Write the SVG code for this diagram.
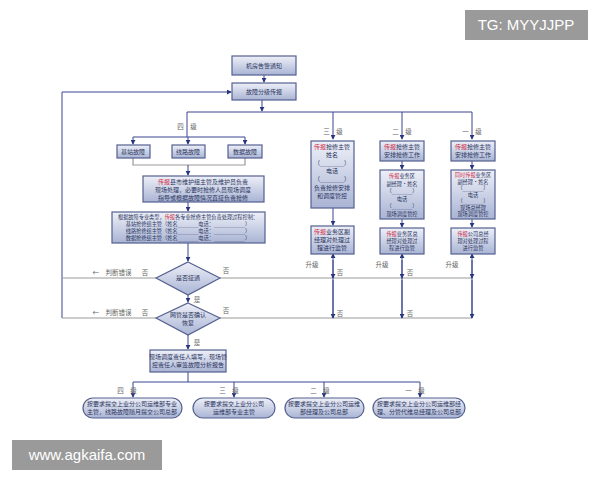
<svg xmlns="http://www.w3.org/2000/svg" width="600" height="480" viewBox="0 0 600 480">
<defs>
<linearGradient id="g" x1="0" y1="0" x2="0" y2="1"><stop offset="0" stop-color="#eef0f8"/><stop offset="1" stop-color="#a9b4d4"/></linearGradient>
<marker id="a" viewBox="0 0 6 6" refX="5" refY="3" markerWidth="5" markerHeight="5" orient="auto"><path d="M0,0L6,3L0,6z" fill="#2a3580"/></marker>
<style>
.b{fill:url(#g);stroke:#54608f;stroke-width:1.2}
.t{font-family:"Noto Sans CJK SC",sans-serif;font-size:6px;fill:#2b3560;text-anchor:middle}
.s{font-size:5.2px}
.r{fill:#d0304a}
.l{font-family:"Noto Sans CJK SC",sans-serif;font-size:6.5px;fill:#666;text-anchor:middle}
.c{stroke:#3a4690;stroke-width:1;fill:none}
.gr{stroke:#999;stroke-width:1.2;fill:none}
.m{marker-end:url(#a)}
</style>
</defs>
<rect width="600" height="480" fill="#fff"/>
<g id="connectors">
<path class="c m" d="M62,318V92H231"/>
<path class="gr" d="M62,278H156M220,278H472M62,318H156M220,318H472"/>
<path class="c m" d="M264,75V82"/>
<path class="c m" d="M262,100V111"/>
<path class="c" d="M187,112H472M187,112V137M133,137H245"/>
<path class="c m" d="M333,112V139"/><path class="c m" d="M402,112V139"/><path class="c m" d="M472,112V139"/>
<path class="c m" d="M133,137V144"/><path class="c m" d="M188,137V144"/><path class="c m" d="M245,137V144"/>
<path class="gr" d="M133,158V165H245V158"/>
<path class="c m" d="M188,165V175"/>
<path class="c m" d="M188,202V211"/>
<path class="c m" d="M188,243V261"/>
<path class="c m" d="M188,295V302"/>
<path class="c m" d="M188,335V349"/>
<path class="c" d="M188,372V382M133,382H420"/>
<path class="c m" d="M133,382V397"/><path class="c m" d="M234,382V397"/><path class="c m" d="M324,382V397"/><path class="c m" d="M420,382V397"/>
<path class="c m" d="M333,208V225"/><path class="c m" d="M402,161V169"/><path class="c m" d="M402,219V227"/><path class="c m" d="M472,161V169"/><path class="c m" d="M472,219V227"/>
<path class="c m" d="M333,318V254"/><path class="c m" d="M402,318V254"/><path class="c m" d="M472,318V254"/>
<path class="c m" d="M333,260V278"/><path class="c m" d="M402,260V278"/><path class="c m" d="M472,260V278"/>
<path class="c m" d="M333,280V318"/><path class="c m" d="M402,280V318"/><path class="c m" d="M472,280V318"/>
</g>
<g class="l">
<text x="187" y="129">四　级</text><text x="333" y="134">三　级</text><text x="402" y="134">二　级</text><text x="472" y="134">一　级</text>
<text x="312" y="267">升级</text><text x="382" y="267">升级</text><text x="452" y="267">升级</text>
<text x="340" y="275">否</text><text x="410" y="275">否</text><text x="340" y="316">否</text><text x="410" y="316">否</text>
<text x="112" y="275">←　判断错误</text><text x="145" y="275">否</text><text x="226" y="273">否</text>
<text x="112" y="315">←　判断错误</text><text x="145" y="315">否</text><text x="226" y="313">否</text>
<text x="197" y="302">是</text><text x="197" y="345">是</text>
<text x="127" y="393">四　级</text><text x="229" y="393">三　级</text><text x="320" y="393">二　级</text><text x="415" y="393">一　级</text>
</g>
<g id="n1"><rect class="b" x="232" y="56" width="64" height="19"/><text class="t" x="264" y="68">机房告警通知</text></g>
<g id="n2"><rect class="b" x="232" y="83" width="64" height="17"/><text class="t" x="264" y="94">故障分级传报</text></g>
<g id="n3"><rect class="b" x="117" y="145" width="33" height="13"/><text class="t" x="133" y="154">基站故障</text></g>
<g id="n4"><rect class="b" x="172" y="145" width="33" height="13"/><text class="t" x="188" y="154">线路故障</text></g>
<g id="n5"><rect class="b" x="228" y="145" width="34" height="13"/><text class="t" x="245" y="154">数据故障</text></g>
<g id="n6"><rect class="b" x="143" y="176" width="121" height="26"/>
<text class="t" x="203" y="184"><tspan class="r">传报</tspan>县市维护组主管及维护员负责</text>
<text class="t" x="203" y="192">现场处理，必要时抢修人员现场调度</text>
<text class="t" x="203" y="200">指导或根据故障情况直接负责抢修</text></g>
<g id="n7"><rect class="b" x="112" y="212" width="153" height="31"/>
<text class="t s" x="188" y="219">根据故障专业类型，<tspan class="r">传报</tspan>各专业抢修主管负责处理过程控制：</text>
<text class="t s" x="188" y="226">基站抢修组主管（姓名＿＿＿＿电话：＿＿＿＿＿＿）</text>
<text class="t s" x="188" y="233">线路抢修组主管（姓名＿＿＿＿电话：＿＿＿＿＿＿）</text>
<text class="t s" x="188" y="240">数据抢修组主管（姓名＿＿＿＿电话：＿＿＿＿＿＿）</text></g>
<g id="n8"><path class="b" d="M188,262L220,278L188,295L156,278z"/><text class="t" x="188" y="280">是否接通</text></g>
<g id="n9"><path class="b" d="M188,303L220,318L188,335L156,318z"/><text class="t" x="188" y="317">网管是否确认</text><text class="t" x="188" y="325">恢复</text></g>
<g id="n10"><rect class="b" x="150" y="350" width="76" height="22"/><text class="t" x="188" y="359">现场调度责任人填写，现场管</text><text class="t" x="188" y="367">控责任人审签故障分析报告</text></g>
<g id="n11"><rect class="b" x="311" y="141" width="43" height="67"/>
<text class="t" x="332" y="149"><tspan class="r">传报</tspan>抢修主管</text><text class="t" x="332" y="157">姓名</text>
<text class="t" x="332" y="165">（＿＿＿＿）</text><text class="t" x="332" y="173">电话</text><text class="t" x="332" y="181">（＿＿＿＿）</text>
<text class="t" x="332" y="190">负责抢修安排</text><text class="t" x="332" y="198">和调度管控</text></g>
<g id="n12"><rect class="b" x="311" y="226" width="43" height="28"/>
<text class="t" x="332" y="234"><tspan class="r">传报</tspan>业务区副</text><text class="t" x="332" y="242">经理对处理过</text><text class="t" x="332" y="250">程进行监管</text></g>
<g id="n13"><rect class="b" x="380" y="141" width="44" height="20"/>
<text class="t" x="402" y="149"><tspan class="r">传报</tspan>抢修主管</text><text class="t" x="402" y="157">安排抢修工作</text></g>
<g id="n14"><rect class="b" x="380" y="170" width="44" height="49"/>
<text class="t s" x="402" y="178"><tspan class="r">传报</tspan>业务区</text><text class="t s" x="402" y="185.5">副经理·姓名</text>
<text class="t s" x="402" y="193">（＿＿＿＿）</text><text class="t s" x="402" y="200.5">电话</text><text class="t s" x="402" y="208">（＿＿＿＿）</text><text class="t s" x="402" y="215.5">现场调度管控</text></g>
<g id="n15"><rect class="b" x="380" y="228" width="44" height="26"/>
<text class="t s" x="402" y="236"><tspan class="r">传报</tspan>业务区总</text><text class="t s" x="402" y="243">经理对处理过</text><text class="t s" x="402" y="250">程进行监管</text></g>
<g id="n16"><rect class="b" x="451" y="141" width="44" height="20"/>
<text class="t" x="473" y="149"><tspan class="r">传报</tspan>抢修主管</text><text class="t" x="473" y="157">安排抢修工作</text></g>
<g id="n17"><rect class="b" x="451" y="170" width="44" height="49"/>
<text class="t s" x="473" y="177"><tspan class="r">同时传报</tspan>业务区</text><text class="t s" x="473" y="183.5">副经理·姓名</text>
<text class="t s" x="473" y="190">（＿＿＿＿）</text><text class="t s" x="473" y="196.5">电话</text><text class="t s" x="473" y="203">（＿＿＿＿）</text><text class="t s" x="473" y="209.5">现场总经理</text><text class="t s" x="473" y="216">现场调度管控</text></g>
<g id="n18"><rect class="b" x="451" y="228" width="44" height="26"/>
<text class="t s" x="473" y="236"><tspan class="r">传报</tspan>公司总经</text><text class="t s" x="473" y="243">理对处理过程</text><text class="t s" x="473" y="250">进行监管</text></g>
<g id="n19"><rect class="b" x="83" y="398" width="99" height="20" rx="10"/><text class="t" x="132" y="406">按要求提交上业分公司运维部专业</text><text class="t" x="132" y="414">主管，线路故障随月提交公司总部</text></g>
<g id="n20"><rect class="b" x="193" y="398" width="82" height="20" rx="10"/><text class="t" x="234" y="406">按要求提交上业分公司</text><text class="t" x="234" y="414">运维部专业主管</text></g>
<g id="n21"><rect class="b" x="285" y="398" width="79" height="20" rx="10"/><text class="t" x="324" y="406">按要求提交上业分公司运维</text><text class="t" x="324" y="414">部经理及公司总部</text></g>
<g id="n22"><rect class="b" x="373" y="398" width="92" height="20" rx="10"/><text class="t" x="419" y="406">按要求提交上业分公司运维部经</text><text class="t" x="419" y="414">理、分管代维总经理及公司总部</text></g>
<rect x="465" y="10" width="123" height="30" fill="#9a9a9a"/><text x="526" y="30" font-family="Liberation Sans,sans-serif" font-size="15" fill="#fff" text-anchor="middle">TG: MYYJJPP</text>
<rect x="12" y="440" width="150" height="30" fill="#9a9a9a"/><text x="87" y="460" font-family="Liberation Sans,sans-serif" font-size="15" fill="#fff" text-anchor="middle">www.agkaifa.com</text>
</svg>
